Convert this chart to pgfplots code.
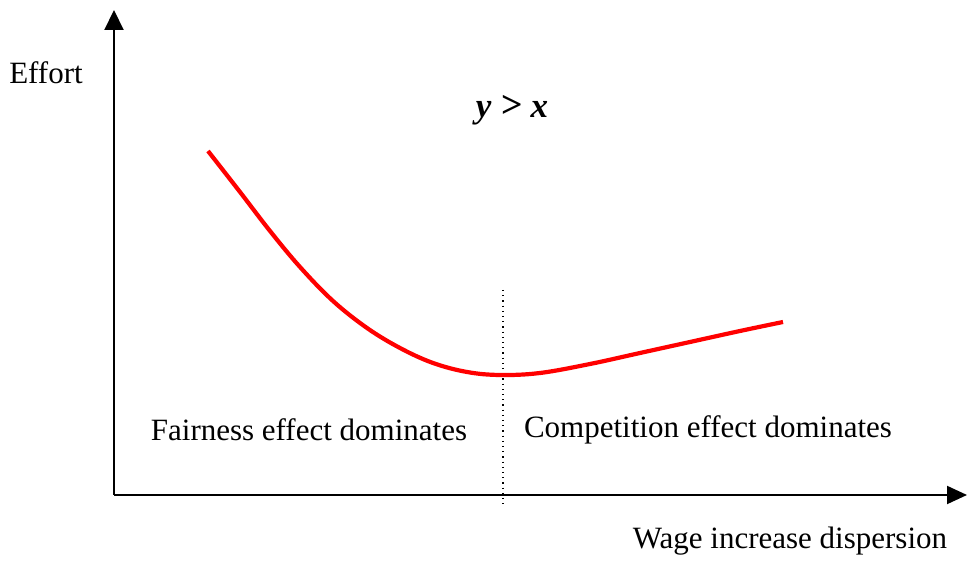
\documentclass[border=0pt]{standalone}
\usepackage{fontspec}
\setmainfont{Liberation Serif}
\usepackage{pgfplots}
\pgfplotsset{compat=1.18}
\usetikzlibrary{arrows.meta}
\begin{document}
\begin{tikzpicture}
\begin{axis}[
  scale only axis, width=484pt, height=279.5pt,
  xmin=0, xmax=968, ymin=0, ymax=559,
  hide axis, clip=false,
]
% invisible frame to fix the picture size
\addplot[draw=none, forget plot] coordinates {(0,0) (968,559)};
% axes
\addplot[black, line width=1pt, -{Triangle[length=10pt,width=9.5pt]}] coordinates {(114,64) (114,549)};
\addplot[black, line width=1pt, -{Triangle[length=10pt,width=9pt]}] coordinates {(114,64) (967,64)};
% dotted divider
\addplot[black, line width=0.6pt, dotted] coordinates {(503,269) (503,51)};
% effort curve
\addplot[red, line width=2.1pt, smooth, tension=0.6] coordinates {
 (208,408) (240,367) (270,328) (300,292) (333,258) (367,231) (400,211)
 (433,196) (467,187) (500,184) (540,186) (590,195) (640,206)
 (690,217) (740,228) (783,237)
};
\node[font=\fontsize{15.5}{18}\selectfont] at (axis cs:46,486) {Effort};
\node[font=\fontsize{17.5}{20}\selectfont\bfseries\itshape] at (axis cs:512,449) {y {\fontsize{19}{20}\selectfont>} x};
\node[font=\fontsize{15.5}{18}\selectfont] at (axis cs:309,129) {Fairness effect dominates};
\node[font=\fontsize{15.5}{18}\selectfont] at (axis cs:708,129) {Competition effect dominates};
\node[font=\fontsize{15.5}{18}\selectfont] at (axis cs:790,18) {Wage increase dispersion};
\end{axis}
\end{tikzpicture}
\end{document}
